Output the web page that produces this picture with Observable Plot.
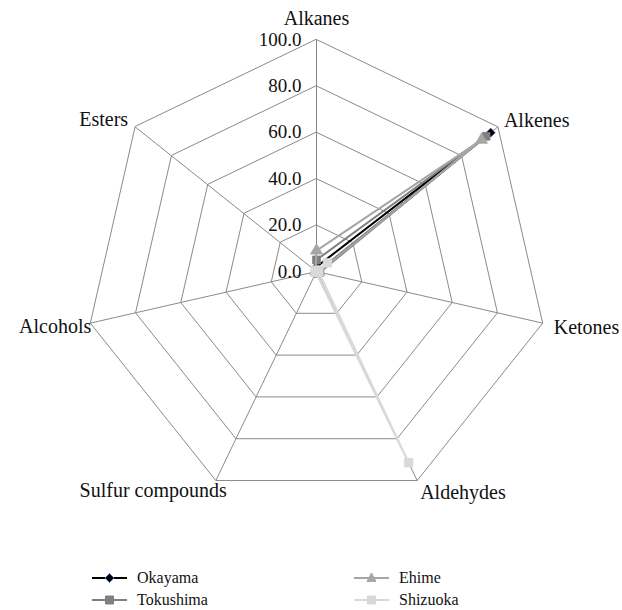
<!DOCTYPE html>
<html>
<head>
<meta charset="utf-8">
<script src="https://cdn.jsdelivr.net/npm/d3@7"></script>
<script src="https://cdn.jsdelivr.net/npm/@observablehq/plot@0.6"></script>
<style>
  html body { margin: 0; background: #fff; font-family: 'Liberation Serif' !important; }
  html body #chart { width: 622px; }
  html body #legend { position: relative; width: 622px; height: 50px; font-size: 16px; color: #111; }
  html body .item { position: absolute; height: 20px; display: flex; align-items: center; white-space: nowrap; }
  html body .item svg { margin-right: 10px; }
  html body #chart svg, html body #chart svg text, html body #chart svg g, html body #legend span, html body #legend div { font-family: 'Liberation Serif' !important; }
</style>
</head>
<body>
<div id="chart"></div>
<div id="legend"></div>
<script>
// ---- data ----
const categories = ["Alkanes", "Alkenes", "Ketones", "Aldehydes", "Sulfur compounds", "Alcohols", "Esters"];
const seriesNames = ["Okayama", "Tokushima", "Ehime", "Shizuoka"];
const okayama   = [2.0, 96.0, 1.0, 0.5, 0.0, 0.0, 0.5];
const tokushima = [5.0, 93.5, 1.5, 1.0, 0.0, 0.0, 0.5];
const ehime     = [9.0, 91.0, 1.0, 0.5, 0.0, 0.0, 0.5];
const shizuoka  = [0.5, 6.0, 1.0, 91.5, 0.5, 0.5, 0.5];
const tickValues = [0, 20, 40, 60, 80, 100];

// ---- styles ----
const FONT = "Liberation Serif";
const seriesStyle = {
  Okayama:   {color: "#000000", symbol: "diamond2", r: 4.0, fill: "#000000", mstroke: "#1f3f6e"},
  Tokushima: {color: "#7f7f7f", symbol: "square",   r: 4.4, fill: "#7f7f7f", mstroke: "#7f7f7f"},
  Ehime:     {color: "#a6a6a6", symbol: "triangle", r: 4.4, fill: "#a6a6a6", mstroke: "#a6a6a6"},
  Shizuoka:  {color: "#d9d9d9", symbol: "square",   r: 4.8, fill: "#d9d9d9", mstroke: "#d9d9d9"}
};
const labelPlacement = {
  "Alkanes": {anchor: "middle", dx: 0, dy: -21},
  "Alkenes": {anchor: "start", dx: 6, dy: -6},
  "Ketones": {anchor: "start", dx: 11, dy: 4},
  "Aldehydes": {anchor: "start", dx: 3, dy: 12},
  "Sulfur compounds": {anchor: "end", dx: 11, dy: 10},
  "Alcohols": {anchor: "end", dx: 1, dy: 3},
  "Esters": {anchor: "end", dx: -7, dy: -7}
};

const n = categories.length;
const ang = i => 2 * Math.PI * i / n;
const px = (v, i) => v * Math.sin(ang(i));
const py = (v, i) => v * Math.cos(ang(i));

const seriesValues = {Okayama: okayama, Tokushima: tokushima, Ehime: ehime, Shizuoka: shizuoka};

// grid rings
const rings = [];
for (const t of tickValues.filter(t => t > 0)) {
  for (let i = 0; i < n; i++) rings.push({ring: t, x: px(t, i), y: py(t, i)});
}
const spokes = categories.map((c, i) => ({c, x2: px(100, i), y2: py(100, i)}));
const tickLabels = tickValues.map(t => ({t, x: 0, y: t}));

const points = [];
for (const s of seriesNames) {
  seriesValues[s].forEach((v, i) => points.push({series: s, cat: categories[i], v, x: px(v, i), y: py(v, i)}));
}

const marks = [
  Plot.line(rings, {x: "x", y: "y", z: "ring", curve: "linear-closed", stroke: "#8a8a8a", strokeWidth: 1}),
  Plot.link(spokes, {x1: 0, y1: 0, x2: "x2", y2: "y2", stroke: "#8a8a8a", strokeWidth: 1}),
  Plot.text(tickLabels, {x: "x", y: "y", text: d => d.t.toFixed(1), textAnchor: "end", dx: -15, fontSize: 19, fontFamily: FONT, fill: "#111"}),
  ...categories.map((c, i) => Plot.text([c], {
    x: () => px(100, i), y: () => py(100, i), text: d => d,
    textAnchor: labelPlacement[c].anchor, dx: labelPlacement[c].dx, dy: labelPlacement[c].dy,
    fontSize: 20, fontFamily: FONT, fill: "#111"
  }))
];
for (const s of seriesNames) {
  const st = seriesStyle[s];
  const pts = points.filter(d => d.series === s);
  marks.push(Plot.line(pts, {x: "x", y: "y", curve: "linear-closed", stroke: st.color, strokeWidth: 2}));
  marks.push(Plot.dot(pts, {x: "x", y: "y", symbol: () => st.symbol, r: st.r, fill: st.fill, stroke: st.mstroke, strokeWidth: 0.8}));
}

const chart = Plot.plot({
  width: 622,
  height: 560,
  marginLeft: 84,
  marginRight: 74,
  marginTop: 39,
  marginBottom: 57,
  x: {domain: [-100, 100], axis: null},
  y: {domain: [-100, 100], axis: null},
  symbol: {type: "identity"},
  marks
});
chart.setAttribute("font-family", FONT);
chart.querySelectorAll("text").forEach(t => t.style.setProperty("font-family", "'Liberation Serif'", "important"));
document.getElementById("chart").appendChild(chart);

// legend
const legendPos = [
  {s: "Okayama", left: 92, top: 8},
  {s: "Tokushima", left: 92, top: 30},
  {s: "Ehime", left: 354, top: 8},
  {s: "Shizuoka", left: 354, top: 30}
];
const legend = document.getElementById("legend");
const symPath = {
  diamond2: "M0,-4.5L4.5,0L0,4.5L-4.5,0Z",
  square: "M-4,-4H4V4H-4Z",
  triangle: "M0,-5L4.5,3.5H-4.5Z"
};
for (const p of legendPos) {
  const st = seriesStyle[p.s];
  const div = document.createElement("div");
  div.className = "item";
  div.style.left = p.left + "px";
  div.style.top = p.top + "px";
  div.innerHTML = `<svg width="35" height="12" viewBox="-17.5 -6 35 12"><line x1="-17.5" x2="17.5" y1="0" y2="0" stroke="${st.color}" stroke-width="2"/><path d="${symPath[st.symbol]}" fill="${st.fill}" stroke="${p.s === 'Okayama' ? '#4a7cc0' : st.mstroke}" stroke-width="1"/></svg><span>${p.s}</span>`;
  div.querySelector("span").style.setProperty("font-family", "'Liberation Serif'", "important");
  legend.appendChild(div);
}
</script>
</body>
</html>
